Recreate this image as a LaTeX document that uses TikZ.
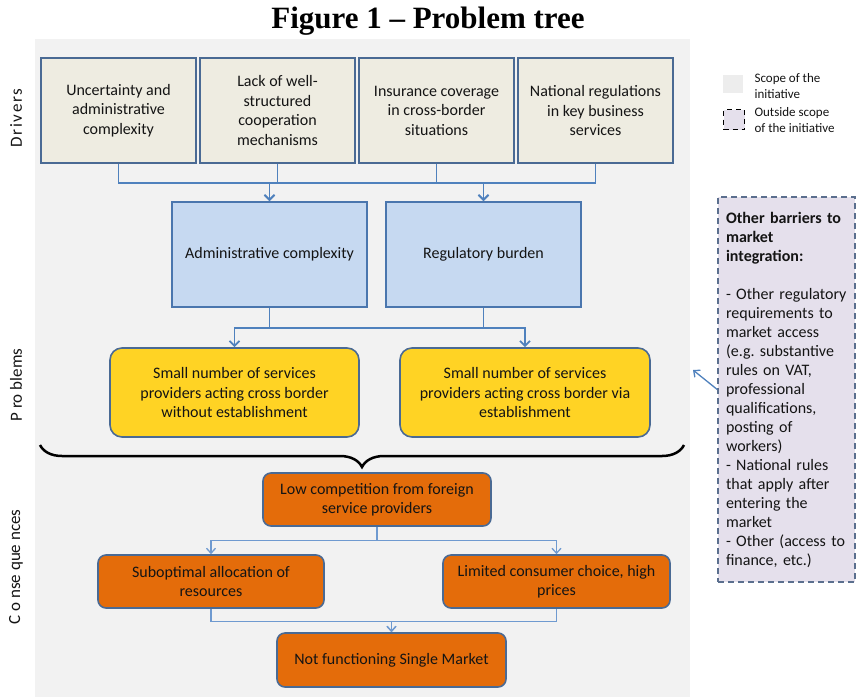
\documentclass[tikz,border=0pt]{standalone}
\usepackage{fontspec}
\setmainfont{Carlito}
\newfontfamily\titlefont{Liberation Serif}
\usetikzlibrary{arrows.meta,decorations.pathreplacing}
\definecolor{bgc}{HTML}{F2F2F2}
\definecolor{drvfill}{HTML}{EEECE1}
\definecolor{bordc}{HTML}{4A6A94}
\definecolor{bluefill}{HTML}{C6D9F1}
\definecolor{blueborder}{HTML}{4A76AE}
\definecolor{yelfill}{HTML}{FFD324}
\definecolor{orafill}{HTML}{E46C0A}
\definecolor{connc}{HTML}{4F81BD}
\definecolor{connl}{HTML}{6F9AD0}
\definecolor{lav}{HTML}{E5E0EC}
\definecolor{lavborder}{HTML}{5B6F8E}
\definecolor{leggray}{HTML}{EDEDED}
\definecolor{txtc}{HTML}{141414}
\frenchspacing
\begin{document}
\begin{tikzpicture}[x=1pt,y=-1pt,
  box/.style={draw=bordc, line width=1.6pt, align=center, inner sep=2pt,
    font=\fontsize{16}{19.5}\selectfont, text=txtc},
  drv/.style={box, fill=drvfill, minimum width=155pt, minimum height=105pt},
  bluebox/.style={box, draw=blueborder, fill=bluefill, minimum width=195pt, minimum height=105pt},
  yelbox/.style={box, fill=yelfill, rounded corners=12pt, minimum height=89pt},
  orabox/.style={box, fill=orafill, rounded corners=8pt, minimum height=53pt},
  conn/.style={draw=connc, line width=1.8pt, -{Straight Barb[length=5pt,width=10pt,line width=1.8pt]}},
  connthin/.style={draw=connl, line width=1.3pt, -{Straight Barb[length=5pt,width=9pt,line width=1.3pt]}},
  sidelabel/.style={rotate=90, font=\fontsize{17}{17}\selectfont, text=txtc},
  legtext/.style={anchor=west, align=left, font=\fontsize{13}{15.5}\selectfont, text=txtc}
]
\useasboundingbox (0,0) rectangle (856,697);
\fill[bgc] (35,39) rectangle (690,697);

% title
\node[anchor=base, font=\titlefont\bfseries\fontsize{31}{31}\selectfont] (title) at (428,28) {Figure 1 – Problem tree};

% side labels
\node[sidelabel] (sl1) at (16,118) {\addfontfeature{LetterSpace=10}Drivers};
\node[sidelabel] (sl2) at (16,385) {P ro blems};
\node[sidelabel] (sl3) at (16,567) {C o nse que nces};

% drivers
\node[drv] (d1) at (118.5,110.5) {Uncertainty and\\administrative\\complexity};
\node[drv] (d2) at (277.5,110.5) {Lack of well-\\structured\\cooperation\\mechanisms};
\node[drv] (d3) at (436.5,110.5) {Insurance coverage\\in cross-border\\situations};
\node[drv] (d4) at (595.5,110.5) {National regulations\\in key business\\services};

% problems (blue)
\node[bluebox] (adm) at (269.5,254.5) {Administrative complexity};
\node[bluebox] (reg) at (483.5,254.5) {Regulatory burden};

% problems (yellow)
\node[yelbox, minimum width=249pt] (y1) at (234.5,392.5) {Small number of services\\providers acting cross border\\without establishment};
\node[yelbox, minimum width=250pt] (y2) at (525,392.5) {Small number of services\\providers acting cross border via\\establishment};

% consequences
\node[orabox, minimum width=228pt] (low) at (377,499.5) {Low competition from foreign\\service providers};
\node[orabox, minimum width=226pt] (sub) at (211,581.5) {Suboptimal allocation of\\resources};
\node[orabox, minimum width=227pt] (lim) at (556.5,581.5) {Limited consumer choice, high\\prices};
\node[orabox, minimum width=229pt, minimum height=54pt] (notf) at (391.5,660) {Not functioning Single Market};

% connectors
\draw[conn] (d1.south) -- ++(0,19) -| (adm.north);
\draw[conn] (d2.south) -- ++(0,19) -| (reg.north);
\draw[conn] (d3.south) -- ++(0,19) -| (adm.north);
\draw[conn] (d4.south) -- ++(0,19) -| (reg.north);
\draw[conn] (adm.south) -- ++(0,20) -| (y2.north);
\draw[conn] (reg.south) -- ++(0,20) -| (y1.north);
\draw[connthin] (low.south) -- ++(0,14) -| (sub.north);
\draw[connthin] (low.south) -- ++(0,14) -| (lim.north);
\draw[connthin] (sub.south) -- ++(0,13) -| (notf.north);
\draw[connthin] (lim.south) -- ++(0,13) -| (notf.north);

% brace
\coordinate (brL) at (40,445);
\coordinate (brR) at (684,445);
\draw[line width=2.5pt, decorate, decoration={brace, mirror, amplitude=22pt}] (brL) -- (brR);

% other barriers
\node[draw=lavborder, dash pattern=on 6pt off 4pt, line width=1.5pt, fill=lav,
  minimum width=137pt, minimum height=385pt, text width=121pt, align=left,
  inner sep=8pt, font=\fontsize{16}{19}\selectfont, text=txtc] (oth) at (786.5,389.5)
  {\textbf{Other barriers to}\\\textbf{market}\\\textbf{integration:}\\[19pt]- Other regulatory\\requirements to\\market access\\(e.g. substantive\\rules on VAT,\\professional\\qualifications,\\posting of\\workers)\\- National rules\\that apply after\\entering the\\market\\- Other (access to\\finance, etc.)};
\coordinate (oarr) at (693,370);
\draw[connthin, draw=connc] (oth.west) -- (oarr);

% legend
\node[fill=leggray, minimum width=20pt, minimum height=18pt, inner sep=0pt] (lg1) at (733,84) {};
\node[draw=black, dash pattern=on 5pt off 4pt, line width=1.3pt, fill=lav, minimum width=21pt, minimum height=20pt, inner sep=0pt] (lg2) at (734,119.5) {};
\node[legtext] (lt1) at (751,86) {Scope of the\\initiative};
\node[legtext] (lt2) at (751,120) {Outside scope\\of the initiative};
\end{tikzpicture}
\end{document}
